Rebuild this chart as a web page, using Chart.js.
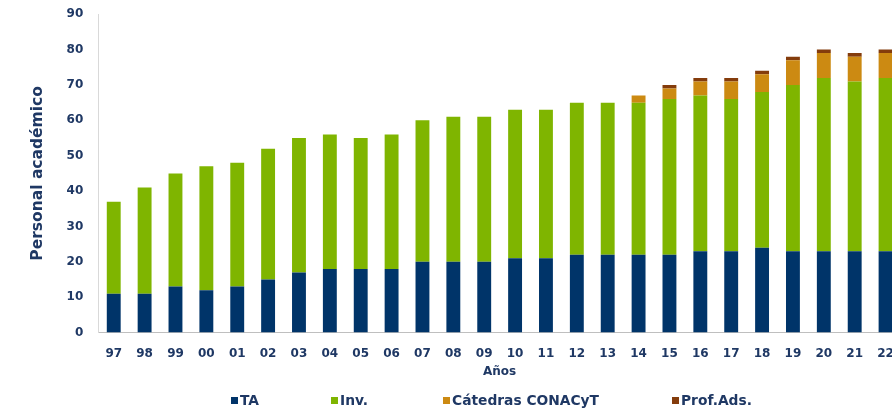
<!DOCTYPE html>
<html>
<head>
<meta charset="utf-8">
<script src="https://cdn.jsdelivr.net/npm/chart.js@4"></script>
<style>
  html, body { margin: 0; padding: 0; background: #fff; overflow: hidden; }
  #wrap { position: relative; width: 892px; height: 414px; overflow: hidden; }
  #legend { position: absolute; top: 392px; left: 0; font: bold 13.8px "DejaVu Sans", Verdana, sans-serif; color: #1f3864; }
  #legend span.item { position: absolute; white-space: nowrap; }
  #legend i { display: inline-block; width: 7px; height: 7px; margin-right: 2px; vertical-align: 1px; }
</style>
</head>
<body>
<div id="wrap">
  <canvas id="myChart" width="912" height="414"></canvas>
  <div id="legend"></div>
</div>
<script>
var years = ['97', '98', '99', '00', '01', '02', '03', '04', '05', '06', '07', '08', '09',
             '10', '11', '12', '13', '14', '15', '16', '17', '18', '19', '20', '21', '22'];
var ta        = [11, 11, 13, 12, 13, 15, 17, 18, 18, 18, 20, 20, 20, 21, 21, 22, 22, 22, 22, 23, 23, 24, 23, 23, 23, 23];
var inv       = [26, 30, 32, 35, 35, 37, 38, 38, 37, 38, 40, 41, 41, 42, 42, 43, 43, 43, 44, 44, 43, 44, 47, 49, 48, 49];
var catedras  = [0, 0, 0, 0, 0, 0, 0, 0, 0, 0, 0, 0, 0, 0, 0, 0, 0, 2, 3, 4, 5, 5, 7, 7, 7, 7];
var profAds   = [0, 0, 0, 0, 0, 0, 0, 0, 0, 0, 0, 0, 0, 0, 0, 0, 0, 0, 1, 1, 1, 1, 1, 1, 1, 1];

var navy = '#1f3864';
var font = '"DejaVu Sans", Verdana, sans-serif';

var ctx = document.getElementById('myChart').getContext('2d');
var myChart = new Chart(ctx, {
    type: 'bar',
    data: {
        labels: years,
        datasets: [
            { label: 'TA', data: ta, backgroundColor: '#003469' },
            { label: 'Inv.', data: inv, backgroundColor: '#7fb500' },
            { label: 'Cátedras CONACyT', data: catedras, backgroundColor: '#cc8a12' },
            { label: 'Prof.Ads.', data: profAds, backgroundColor: '#843c0c' }
        ]
    },
    options: {
        responsive: false,
        animation: false,
        layout: { padding: { top: 11, right: 11, bottom: 35, left: 25 } },
        datasets: {
            bar: { barPercentage: 0.45, categoryPercentage: 1, borderWidth: 0 }
        },
        plugins: {
            legend: { display: false },
            tooltip: { enabled: false }
        },
        scales: {
            x: {
                stacked: true,
                grid: { display: false },
                border: { color: '#bfbfbf', width: 1 },
                ticks: { color: navy, font: { family: font, size: 12, weight: 'bold', lineHeight: 1 }, maxRotation: 0, autoSkip: false, padding: 7 },
                title: { display: true, text: 'Años', color: navy, font: { family: font, size: 12, weight: 'bold' }, padding: { top: -2, bottom: 0 } }
            },
            y: {
                stacked: true,
                min: 0,
                max: 90,
                grid: { display: false },
                border: { color: '#d9d9d9', width: 1 },
                ticks: { stepSize: 10, color: navy, font: { family: font, size: 12, weight: 'bold' }, padding: 7 },
                title: { display: true, text: 'Personal académico', color: navy, font: { family: font, size: 15.5, weight: 'bold' }, padding: { bottom: 12 } }
            }
        }
    }
});

// legend in the spaced layout of the original
var legendLeft = [231, 331, 443, 672];
var legend = document.getElementById('legend');
myChart.data.datasets.forEach(function (ds, i) {
    var item = document.createElement('span');
    item.className = 'item';
    item.style.left = legendLeft[i] + 'px';
    item.innerHTML = '<i style="background:' + ds.backgroundColor + '"></i>' + ds.label;
    legend.appendChild(item);
});
</script>
</body>
</html>
